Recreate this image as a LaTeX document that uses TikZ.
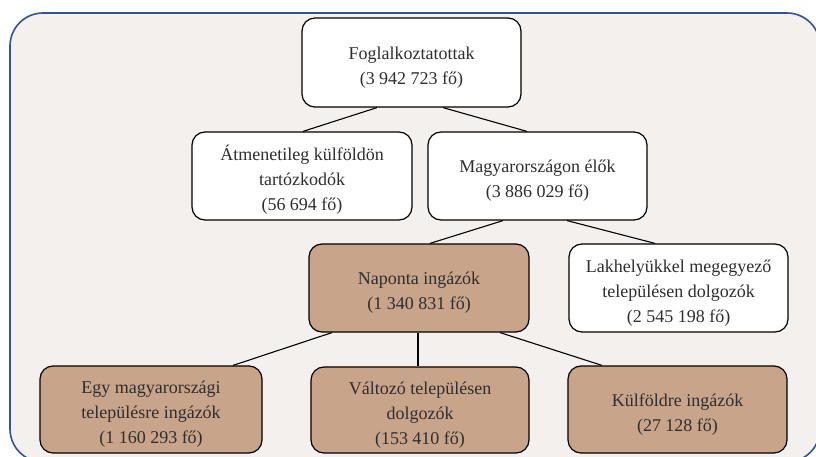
\documentclass[tikz,border=0pt]{standalone}
\usepackage{fontspec}
\setmainfont{Liberation Serif}
\definecolor{framebg}{HTML}{F3F0EE}
\definecolor{frameblue}{HTML}{2F5496}
\definecolor{brownfill}{HTML}{C8A48B}
\definecolor{txt}{HTML}{2E2E2E}
\newcommand\boxtext[1]{\begin{tabular}{@{}c@{}}\rule{0pt}{26pt}#1\end{tabular}}
\begin{document}
\begin{tikzpicture}[x=1pt,y=-1pt,
  box/.style={draw=black, line width=1.2pt, rounded corners=13pt,
    text=txt, inner sep=0pt, font=\fontsize{18}{25}\selectfont},
  whitebox/.style={box, fill=white},
  brownbox/.style={box, fill=brownfill},
  link/.style={draw=black, line width=1.1pt}]
\useasboundingbox (0,0) rectangle (816,457);
\begin{scope}
\clip (0,0) rectangle (816,457);
\fill[white] (0,0) rectangle (816,457);
\draw[frameblue, fill=framebg, line width=1.6pt, rounded corners=33pt] (10,13) rectangle (820,462);
\end{scope}

\node[whitebox, minimum width=219pt, minimum height=89pt] (top) at (411.5,62.5) {\boxtext{Foglalkoztatottak\\(3 942 723 fő)}};
\node[whitebox, minimum width=220pt, minimum height=88pt] (atm) at (302,176) {\boxtext{Átmenetileg külföldön\\tartózkodók\\(56 694 fő)}};
\node[whitebox, minimum width=219pt, minimum height=88pt] (mag) at (537.5,176) {\boxtext{Magyarországon élők\\(3 886 029 fő)}};
\node[brownbox, minimum width=220pt, minimum height=88pt] (nap) at (419,288) {\boxtext{Naponta ingázók\\(1 340 831 fő)}};
\node[whitebox, minimum width=219pt, minimum height=88pt] (lak) at (678.5,288) {\boxtext{Lakhelyükkel megegyező\\településen dolgozók\\(2 545 198 fő)}};
\node[brownbox, minimum width=222pt, minimum height=87pt] (egy) at (151,409.5) {\boxtext{Egy magyarországi\\településre ingázók\\(1 160 293 fő)}};
\node[brownbox, minimum width=218pt, minimum height=86pt] (val) at (420,410) {\boxtext{Változó településen\\dolgozók\\(153 410 fő)}};
\node[brownbox, minimum width=219pt, minimum height=87pt] (kul) at (677.5,409.5) {\boxtext{Külföldre ingázók\\(27 128 fő)}};

\draw[link] ([xshift=-34.5pt]top.south) -- ([xshift=1pt]atm.north);
\draw[link] ([xshift=31.5pt]top.south) -- ([xshift=-10.5pt]mag.north);
\draw[link] ([xshift=-34.5pt]mag.south) -- ([xshift=11pt]nap.north);
\draw[link] ([xshift=29.5pt]mag.south) -- ([xshift=-23.5pt]lak.north);
\draw[link] ([xshift=-87pt]nap.south) -- ([xshift=82pt]egy.north);
\draw[link] ([xshift=-1pt]nap.south) -- ([xshift=-2pt]val.north);
\draw[link] ([xshift=81pt]nap.south) -- ([xshift=-75.5pt]kul.north);
\end{tikzpicture}
\end{document}
